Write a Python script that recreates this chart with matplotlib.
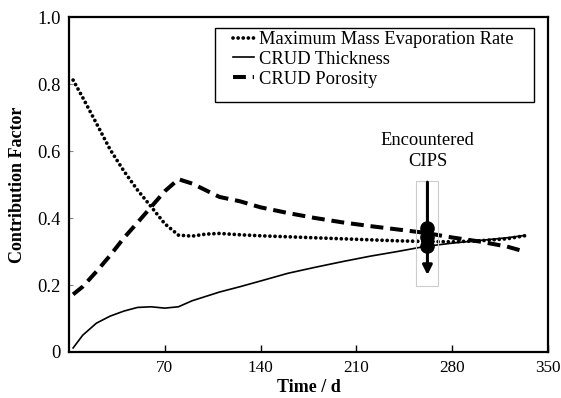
import numpy as np
import matplotlib.pyplot as plt
from matplotlib.patches import Rectangle

plt.rcParams['font.family'] = ['Liberation Serif', 'DejaVu Serif']

# time in days
t = [3, 10, 20, 30, 40, 50, 60, 70, 80, 90, 100, 110, 125, 140, 160, 180,
     200, 220, 240, 260, 280, 300, 320, 333]
evap = [0.812, 0.76, 0.683, 0.605, 0.541, 0.484, 0.434, 0.383, 0.349, 0.346,
        0.352, 0.354, 0.35, 0.347, 0.344, 0.341, 0.338, 0.335, 0.332, 0.33,
        0.329, 0.332, 0.338, 0.347]
thick = [0.012, 0.05, 0.086, 0.107, 0.122, 0.133, 0.135, 0.131, 0.135, 0.153,
         0.166, 0.179, 0.195, 0.212, 0.235, 0.253, 0.27, 0.286, 0.30, 0.315,
         0.325, 0.333, 0.341, 0.348]
poro = [0.172, 0.195, 0.24, 0.288, 0.34, 0.386, 0.433, 0.48, 0.516, 0.503,
        0.483, 0.463, 0.45, 0.432, 0.415, 0.40, 0.387, 0.376, 0.366, 0.356,
        0.342, 0.33, 0.315, 0.30]

cips_t = 262
cips_vals = [0.370, 0.343, 0.316]
cips_arrow = (0.507, 0.23)

xticks = [70, 140, 210, 280, 350]
yticks = [0, 0.2, 0.4, 0.6, 0.8, 1.0]
ylabels = ['0', '0.2', '0.4', '0.6', '0.8', '1.0']

fig = plt.figure(figsize=(5.61, 3.98), dpi=100)
ax = fig.add_axes([0.123, 0.1156, 0.8535, 0.8414])

ax.plot(t, evap, color='black', lw=2.7, linestyle=(0, (0.01, 1.35)),
        dash_capstyle='round', label='Maximum Mass Evaporation Rate')
ax.plot(t, thick, color='black', lw=1.2, label='CRUD Thickness')
ax.plot(t, poro, color='black', lw=2.9, linestyle=(0, (3.2, 1.7)),
        label='CRUD Porosity')

# encountered CIPS marker
ax.add_patch(Rectangle((254, 0.196), 15.5, 0.314, fill=False,
                       edgecolor='#cccccc', lw=0.8, zorder=3))
ax.annotate('', xy=(cips_t, cips_arrow[1]), xytext=(cips_t, cips_arrow[0]),
            arrowprops=dict(arrowstyle='-|>', color='black', lw=2.2,
                            mutation_scale=14, shrinkA=0, shrinkB=0), zorder=4)
ax.plot([cips_t] * 3, cips_vals, 'o', color='black', ms=9.5, zorder=5)
ax.text(cips_t, 0.601, 'Encountered\nCIPS', ha='center', va='center',
        fontsize=13.3, linespacing=1.3)

ax.set_xlim(0, 350)
ax.set_ylim(0, 1.0)
ax.set_xticks(xticks)
ax.set_yticks(yticks)
ax.set_yticklabels(ylabels)
ax.tick_params(axis='x', direction='in', length=5, width=1.0, labelsize=12.3, pad=6)
ax.tick_params(axis='y', direction='in', length=3, width=0.8, color='#888888',
               labelsize=13.3, pad=6)
for s in ax.spines.values():
    s.set_linewidth(1.6)

ax.set_xlabel('Time / d', fontsize=13, fontweight='bold', labelpad=2)
ax.set_ylabel('Contribution Factor', fontsize=13, fontweight='bold', labelpad=8)

ax.add_patch(Rectangle((0.304, 0.746), 0.667, 0.221, transform=ax.transAxes,
                       fill=False, edgecolor='black', lw=1.0, zorder=6))
ax.legend(loc='upper left', bbox_to_anchor=(0.33, 0.975), frameon=False,
          fontsize=13.3, handlelength=1.15, handletextpad=0.3,
          labelspacing=0.15, borderpad=0.3, borderaxespad=0)

fig.savefig('out.png', dpi=100)
